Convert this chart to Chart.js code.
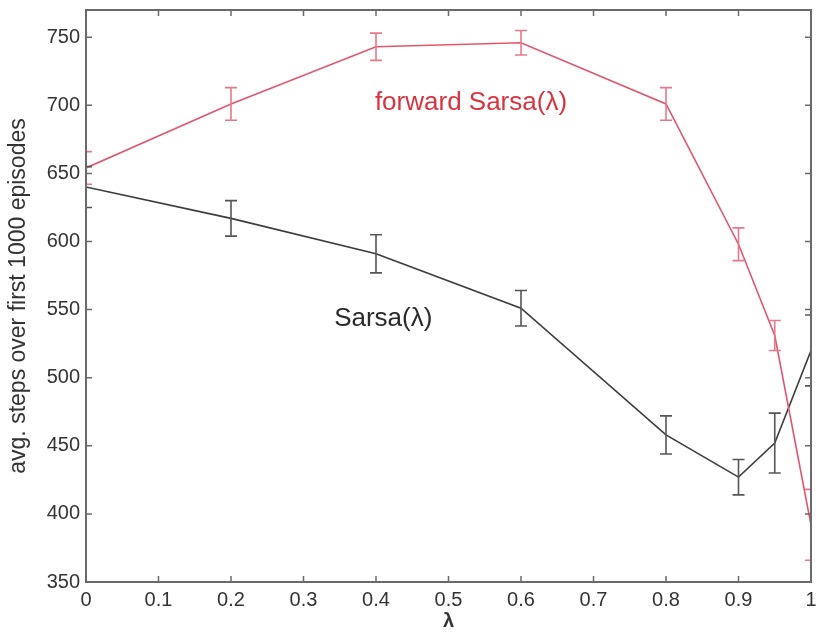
<!DOCTYPE html>
<html>
<head>
<meta charset="utf-8">
<script src="https://cdn.jsdelivr.net/npm/chart.js@4/dist/chart.umd.min.js"></script>
<style>
  html, body { margin: 0; padding: 0; background: #fff; }
  #wrap { width: 823px; height: 634px; }
</style>
</head>
<body>
<div id="wrap"><canvas id="myChart" width="823" height="634"></canvas></div>
<script>
const lambdas = [0, 0.2, 0.4, 0.6, 0.8, 0.9, 0.95, 1];
const forwardSteps = [654, 701, 743, 746, 701, 598, 531, 392];
const forwardErr = [12, 12, 10, 9, 12, 12, 11, 26];
const sarsaSteps = [640, 617, 591, 551, 458, 427, 452, 520];
const sarsaErr = [15, 13, 14, 13, 14, 13, 22, 26];
const xTicks = [0, 0.1, 0.2, 0.3, 0.4, 0.5, 0.6, 0.7, 0.8, 0.9, 1];
const yTicks = [350, 400, 450, 500, 550, 600, 650, 700, 750];

const font = '"Liberation Sans", Arial, Helvetica, sans-serif';
const axisColor = "#6a6a6a";
const ctx = document.getElementById("myChart").getContext("2d");

// error bars, clipped to the plot box
const errorBars = {
  id: "errorBars",
  afterDatasetsDraw(chart) {
    const { ctx, chartArea, scales } = chart;
    ctx.save();
    ctx.beginPath();
    ctx.rect(chartArea.left, chartArea.top, chartArea.right - chartArea.left, chartArea.bottom - chartArea.top);
    ctx.clip();
    chart.data.datasets.forEach((ds, i) => {
      const meta = chart.getDatasetMeta(i);
      ctx.strokeStyle = ds.errColor;
      ctx.lineWidth = 1.6;
      meta.data.forEach((pt, j) => {
        const top = scales.y.getPixelForValue(ds.data[j].y + ds.err[j]);
        const bot = scales.y.getPixelForValue(ds.data[j].y - ds.err[j]);
        ctx.beginPath();
        ctx.moveTo(pt.x, top); ctx.lineTo(pt.x, bot);
        ctx.moveTo(pt.x - 6, top); ctx.lineTo(pt.x + 6, top);
        ctx.moveTo(pt.x - 6, bot); ctx.lineTo(pt.x + 6, bot);
        ctx.stroke();
      });
    });
    ctx.restore();
  }
};

// matlab style box with inward ticks on all sides, plus curve labels
const boxAxes = {
  id: "boxAxes",
  afterDraw(chart) {
    const { ctx, chartArea: a, scales } = chart;
    ctx.save();
    ctx.strokeStyle = axisColor;
    ctx.lineWidth = 2;
    ctx.strokeRect(a.left, a.top, a.right - a.left, a.bottom - a.top);
    ctx.lineWidth = 1.5;
    ctx.beginPath();
    xTicks.forEach((v) => {
      const x = scales.x.getPixelForValue(v);
      ctx.moveTo(x, a.bottom); ctx.lineTo(x, a.bottom - 6);
      ctx.moveTo(x, a.top); ctx.lineTo(x, a.top + 6);
    });
    yTicks.forEach((v) => {
      const y = scales.y.getPixelForValue(v);
      ctx.moveTo(a.left, y); ctx.lineTo(a.left + 6, y);
      ctx.moveTo(a.right, y); ctx.lineTo(a.right - 6, y);
    });
    ctx.stroke();

    ctx.textAlign = "center";
    ctx.textBaseline = "middle";
    ctx.font = "26px " + font;
    ctx.fillStyle = "#d8343f";
    ctx.fillText("forward Sarsa(λ)", scales.x.getPixelForValue(0.531), scales.y.getPixelForValue(702));
    ctx.fillStyle = "#2a2a2a";
    ctx.fillText("Sarsa(λ)", scales.x.getPixelForValue(0.41), scales.y.getPixelForValue(543));
    ctx.restore();
  }
};

new Chart(ctx, {
  type: "line",
  data: {
    datasets: [
      {
        label: "forward Sarsa(λ)",
        data: lambdas.map((x, i) => ({ x: x, y: forwardSteps[i] })),
        err: forwardErr,
        borderColor: "#e2566c",
        errColor: "#e77a8a",
        borderWidth: 1.6,
        pointRadius: 0,
        tension: 0,
        fill: false,
      },
      {
        label: "Sarsa(λ)",
        data: lambdas.map((x, i) => ({ x: x, y: sarsaSteps[i] })),
        err: sarsaErr,
        borderColor: "#3c3c3c",
        errColor: "#555555",
        borderWidth: 1.6,
        pointRadius: 0,
        tension: 0,
        fill: false,
      },
    ],
  },
  options: {
    responsive: false,
    animation: false,
    layout: { padding: { top: 10, right: 12, left: 0, bottom: 0 } },
    plugins: { legend: { display: false }, tooltip: { enabled: false } },
    scales: {
      x: {
        type: "linear",
        min: 0,
        max: 1,
        afterBuildTicks: (s) => { s.ticks = xTicks.map((v) => ({ value: v })); },
        afterFit: (s) => { s.height = 52; s.paddingLeft = 0; s.paddingRight = 0; },
        grid: { display: false, drawTicks: false },
        border: { display: false },
        ticks: {
          padding: 6,
          color: "#333",
          font: { family: font, size: 20 },
          maxRotation: 0,
          callback: (v) => String(v),
        },
        title: {
          display: true,
          text: "λ",
          color: "#333",
          font: { family: font, size: 20, weight: "bold" },
          padding: { top: 0, bottom: 1 },
        },
      },
      y: {
        min: 350,
        max: 770,
        afterBuildTicks: (s) => { s.ticks = yTicks.map((v) => ({ value: v })); },
        afterFit: (s) => { s.width = 86; s.paddingTop = 0; s.paddingBottom = 0; },
        grid: { display: false, drawTicks: false },
        border: { display: false },
        ticks: {
          padding: 6,
          color: "#333",
          font: { family: font, size: 20 },
        },
        title: {
          display: true,
          text: "avg. steps over first 1000 episodes",
          color: "#333",
          font: { family: font, size: 23 },
          padding: { top: 5, bottom: 0 },
        },
      },
    },
  },
  plugins: [errorBars, boxAxes],
});
</script>
</body>
</html>
